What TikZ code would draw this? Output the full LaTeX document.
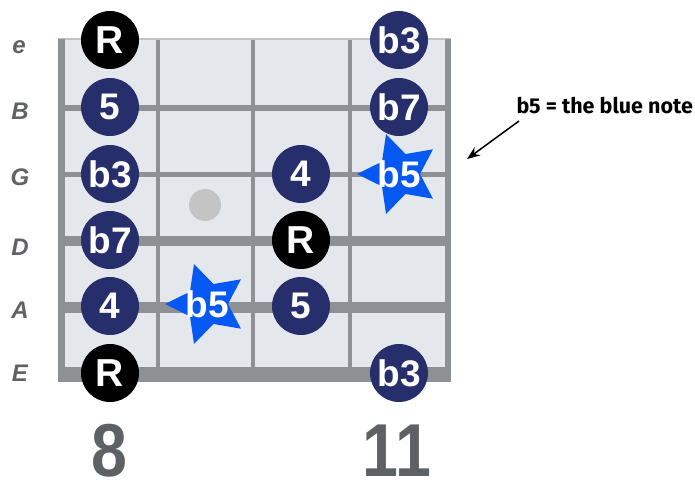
\documentclass[tikz,border=0pt]{standalone}
\usepackage{fontspec}
\setmainfont{Liberation Sans}
\newfontfamily\notefont{Fira Sans}
\usetikzlibrary{shapes.geometric,arrows.meta}
\definecolor{board}{HTML}{E4E7EC}
\definecolor{wire}{HTML}{8E9193}
\definecolor{navy}{HTML}{262F6B}
\definecolor{starblue}{HTML}{0558F2}
\definecolor{labelgray}{HTML}{606265}
\definecolor{fretgray}{HTML}{5E6163}
\definecolor{inlay}{HTML}{C4C4C4}
\begin{document}
\begin{tikzpicture}[x=1pt, y=-1pt,
  deg/.style={circle, fill=navy, minimum size=58pt, inner sep=0pt, text=white,
    font=\fontsize{37}{37}\selectfont\bfseries},
  root/.style={deg, fill=black, font=\fontsize{39}{39}\selectfont\bfseries},
  bluestar/.style={star, star points=5, star point ratio=2, minimum size=84pt,
    inner sep=0pt, shape border rotate=90, fill=starblue,
    label={[text=white, font=\fontsize{37}{37}\selectfont\bfseries]center:#1}},
  strname/.style={text=labelgray, anchor=base, font=\fontsize{24}{24}\selectfont\bfseries\itshape},
  fretnum/.style={text=fretgray, anchor=base, font=\fontsize{75}{75}\selectfont\bfseries,
    xscale=0.86, transform shape}]
  \useasboundingbox (0,0) rectangle (695,480);

  % Fretboard
  \fill[board] (65,39) rectangle (445,374);
  \foreach \fx in {158,253,350}
    \draw[wire, line width=4pt] (\fx,39) -- (\fx,382);
  \draw[wire!55, line width=2pt] (58,39) -- (451,39);
  \foreach \sy/\sw in {108/5.5, 174.5/5, 241/10, 307.5/11, 374.5/15}
    \draw[wire, line width=\sw pt] (58,\sy) -- (451,\sy);
  \draw[wire, line width=7pt] (61.5,39) -- (61.5,382);
  \draw[wire, line width=6pt] (448,39) -- (448,382);
  \node[circle, fill=inlay, minimum size=32pt, inner sep=0pt] (dot9) at (205,205) {};

  % String names
  \node[strname] (se) at (19,53) {e};
  \node[strname] (sB) at (20,119) {B};
  \node[strname] (sG) at (20,185) {G};
  \node[strname] (sD) at (20,255) {D};
  \node[strname] (sA) at (20,318) {A};
  \node[strname] (sE) at (20,381) {E};

  % Notes
  \node[root] (e8) at (110,40) {R};
  \node[deg] (e11) at (399,40) {b3};
  \node[deg] (B8) at (110,107) {5};
  \node[deg] (B11) at (399,107) {b7};
  \node[deg] (G8) at (110,174) {b3};
  \node[deg] (G10) at (301,174) {4};
  \node[bluestar=b5] (G11) at (399,174) {};
  \node[deg] (D8) at (110,240) {b7};
  \node[root] (D10) at (301,240) {R};
  \node[deg] (A8) at (110,306) {4};
  \node[bluestar=b5] (A9) at (207,304) {};
  \node[deg] (A10) at (301,306) {5};
  \node[root] (E8) at (110,373) {R};
  \node[deg] (E11) at (399,373) {b3};

  % Fret numbers
  \node[fretnum] (f8) at (109,476) {8};
  \node[fretnum] (f11) at (397,476) {11};

  % Blue note
  \node[anchor=base west, font=\notefont\fontsize{21.5}{21.5}\selectfont\bfseries] (bluenote) at (513,113) {b5 = the blue note};
  \coordinate (tail) at (519,121);
  \coordinate (tip) at (467,159);
  \draw[-{Stealth[length=13pt, width=10pt]}, line width=1.5pt] (tail) -- (tip);
\end{tikzpicture}
\end{document}
